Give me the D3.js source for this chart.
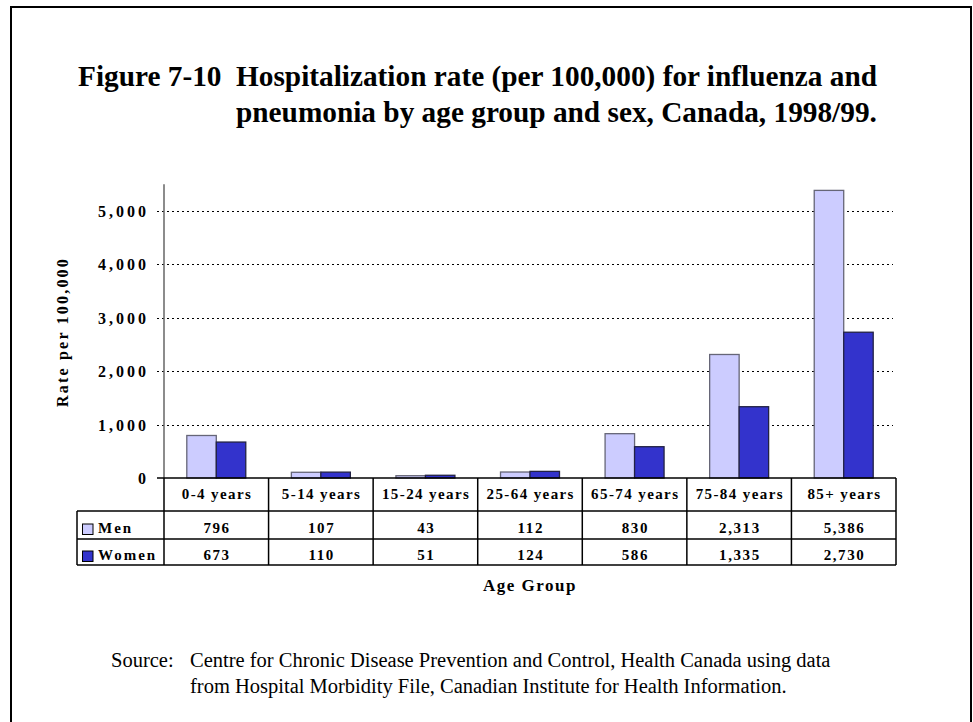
<!DOCTYPE html>
<html>
<head>
<meta charset="utf-8">
<script src="https://cdn.jsdelivr.net/npm/d3@7/dist/d3.min.js"></script>
<style>
  html, body { margin: 0; padding: 0; background: #fff; }
  svg { display: block; }
  text { font-family: "Liberation Serif", "Times New Roman", serif; fill: #000; }
</style>
</head>
<body>
<svg id="chart" width="973" height="722"></svg>
<script>
// ---- data ----
const categories = ["0-4 years", "5-14 years", "15-24 years", "25-64 years", "65-74 years", "75-84 years", "85+ years"];
const seriesNames = ["Men", "Women"];
const menValues = [796, 107, 43, 112, 830, 2313, 5386];
const womenValues = [673, 110, 51, 124, 586, 1335, 2730];
const yTicks = [0, 1000, 2000, 3000, 4000, 5000];
const titleLine1a = "Figure 7-10";
const titleLine1b = "Hospitalization rate (per 100,000) for influenza and";
const titleLine2 = "pneumonia by age group and sex, Canada, 1998/99.";
const yAxisTitle = "Rate per 100,000";
const xAxisTitle = "Age Group";
const sourceLabel = "Source:";
const sourceLines = ["Centre for Chronic Disease Prevention and Control, Health Canada using data",
                     "from Hospital Morbidity File, Canadian Institute for Health Information."];

const colors = { Men: "#ccccff", Women: "#3333cc" };
const strokes = { Men: "#666677", Women: "#222244" };
const values = { Men: menValues, Women: womenValues };

const svg = d3.select("#chart");
const fmt = d3.format(",");

// outer frame
svg.append("rect").attr("x", 11).attr("y", 7).attr("width", 960).attr("height", 740)
  .attr("fill", "none").attr("stroke", "#000").attr("stroke-width", 2);

// title
const tfs = 29.3;
svg.append("text").attr("x", 78).attr("y", 86).attr("font-size", tfs).attr("font-weight", "bold").text(titleLine1a);
svg.append("text").attr("x", 236).attr("y", 86).attr("font-size", tfs).attr("font-weight", "bold").text(titleLine1b);
svg.append("text").attr("x", 236).attr("y", 122).attr("font-size", tfs).attr("font-weight", "bold").text(titleLine2);

// scales
const left = 164, right = 896, y0px = 478;
const x = d3.scaleBand().domain(categories).range([left, right]).paddingInner(0.436).paddingOuter(0.218);
const xs = d3.scaleBand().domain(seriesNames).range([0, x.bandwidth()]);
const y = d3.scaleLinear().domain([0, 5500]).range([y0px, y0px - 5.5 * 53.4]);

// gridlines
svg.append("g").selectAll("line").data(yTicks.filter(d => d > 0)).join("line")
  .attr("x1", 157).attr("x2", 893)
  .attr("y1", d => Math.round(y(d)) + 0.5).attr("y2", d => Math.round(y(d)) + 0.5)
  .attr("stroke", "#000").attr("stroke-width", 1).attr("stroke-dasharray", "2,3");

// y tick labels
svg.append("g").selectAll("text").data(yTicks).join("text")
  .attr("x", 146 + 3).attr("y", d => y(d) + 6)
  .attr("text-anchor", "end").attr("font-size", 16).attr("font-weight", "bold")
  .attr("letter-spacing", 3)
  .text(d => fmt(d));

// bars
const groups = svg.append("g").selectAll("g").data(categories).join("g")
  .attr("transform", d => `translate(${x(d)},0)`);
groups.selectAll("rect").data((c, i) => seriesNames.map(s => ({ s, v: values[s][i] }))).join("rect")
  .attr("x", d => xs(d.s))
  .attr("y", d => y(d.v))
  .attr("width", xs.bandwidth())
  .attr("height", d => y0px - y(d.v))
  .attr("fill", d => colors[d.s])
  .attr("stroke", d => strokes[d.s]).attr("stroke-width", 1.3);

// y axis line
svg.append("line").attr("x1", left).attr("x2", left).attr("y1", y(5500)).attr("y2", y0px)
  .attr("stroke", "#666").attr("stroke-width", 1.5);

// data table
const rowTop = [y0px, 511, 539, 565];
const tbl = svg.append("g").attr("stroke", "#000").attr("stroke-width", 1.5);
tbl.append("line").attr("x1", 157).attr("x2", right).attr("y1", y0px).attr("y2", y0px);
tbl.append("line").attr("x1", 77).attr("x2", right).attr("y1", rowTop[1]).attr("y2", rowTop[1]);
tbl.append("line").attr("x1", 77).attr("x2", right).attr("y1", rowTop[2]).attr("y2", rowTop[2]);
tbl.append("line").attr("x1", 77).attr("x2", right).attr("y1", rowTop[3]).attr("y2", rowTop[3]);
tbl.append("line").attr("x1", 77).attr("x2", 77).attr("y1", rowTop[1]).attr("y2", rowTop[3]);
const step = x.step();
const bounds = d3.range(categories.length + 1).map(i => left + i * step);
tbl.selectAll("line.v").data(bounds).join("line").attr("class", "v")
  .attr("x1", d => d).attr("x2", d => d).attr("y1", y0px).attr("y2", rowTop[3]);

// header labels
svg.append("g").selectAll("text").data(categories).join("text")
  .attr("x", d => x(d) + x.bandwidth() / 2 + 0.7).attr("y", 499)
  .attr("text-anchor", "middle").attr("font-size", 15).attr("font-weight", "bold")
  .attr("letter-spacing", 1.4).text(d => d);

// row values
const rowBase = { Men: 533, Women: 560 };
seriesNames.forEach(s => {
  svg.append("g").selectAll("text").data(values[s]).join("text")
    .attr("x", (d, i) => x(categories[i]) + x.bandwidth() / 2 + 0.8).attr("y", rowBase[s])
    .attr("text-anchor", "middle").attr("font-size", 15).attr("font-weight", "bold")
    .attr("letter-spacing", 1.6).text(d => fmt(d));
  svg.append("rect").attr("x", 82.5).attr("y", rowBase[s] - 9).attr("width", 10.5).attr("height", 10.5)
    .attr("fill", colors[s]).attr("stroke", "#000").attr("stroke-width", 1);
  svg.append("text").attr("x", 98).attr("y", rowBase[s]).attr("font-size", 15).attr("font-weight", "bold")
    .attr("letter-spacing", 2).text(s);
});

// axis titles
svg.append("text").attr("transform", "translate(68,332) rotate(-90)")
  .attr("text-anchor", "middle").attr("font-size", 16).attr("font-weight", "bold")
  .attr("letter-spacing", 2.2).text(yAxisTitle);
svg.append("text").attr("x", 530).attr("y", 591).attr("text-anchor", "middle")
  .attr("font-size", 17).attr("font-weight", "bold").attr("letter-spacing", 1.5).text(xAxisTitle);

// source
svg.append("text").attr("x", 111).attr("y", 667).attr("font-size", 20.5).text(sourceLabel);
sourceLines.forEach((t, i) => {
  svg.append("text").attr("x", 190).attr("y", 667 + i * 26).attr("font-size", 20.5).text(t);
});
</script>
</body>
</html>
